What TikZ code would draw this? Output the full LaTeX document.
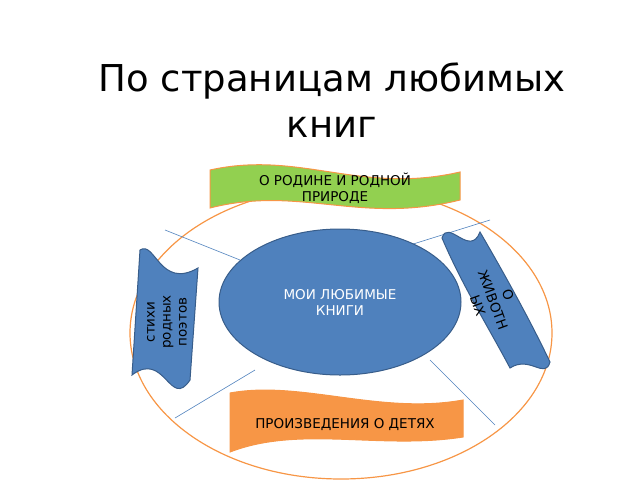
\documentclass[tikz,border=0pt]{standalone}
\usepackage{fontspec}
\setmainfont{DejaVu Sans}
\definecolor{ringblue}{HTML}{4F81BD}
\definecolor{edgeblue}{HTML}{385D8A}
\definecolor{leafgreen}{HTML}{92D050}
\definecolor{warmorange}{HTML}{F79646}
\begin{document}
\begin{tikzpicture}[x=1pt,y=-1pt,
    thin line/.style={draw=ringblue,line width=0.6pt},
    wave box/.style={draw=warmorange,line width=1pt},
    blue shape/.style={fill=ringblue,draw=edgeblue,line width=1pt},
    label text/.style={font=\fontsize{13.5}{16}\selectfont,align=center}]
    \useasboundingbox (0,0) rectangle (640,480);
    \node[font=\fontsize{37}{46}\selectfont,align=center] (title) at (332,100) {По страницам любимых\\книг};
    % outer ring
    \draw[draw=warmorange,line width=1.2pt] (341,333) ellipse [x radius=211,y radius=146];
    % spokes
    \coordinate (a1) at (165,230); \coordinate (a2) at (240,260);
    \coordinate (b1) at (490,220); \coordinate (b2) at (410,245);
    \coordinate (c1) at (175,418); \coordinate (c2) at (255,370);
    \coordinate (d1) at (495,425); \coordinate (d2) at (430,360);
    \draw[thin line] (a1) -- (a2);
    \draw[thin line] (b1) -- (b2);
    \draw[thin line] (c1) -- (c2);
    \draw[thin line] (d1) -- (d2);
    % centre
    \draw[blue shape] (340,302) ellipse [x radius=121,y radius=73];
    \node[label text,text=white] (centre) at (340,302) {МОИ ЛЮБИМЫЕ\\КНИГИ};
    % top banner
    \draw[wave box,fill=leafgreen] (210,170) .. controls (300,150) and (360,195) .. (460,172)
        -- (460,200) .. controls (360,225) and (300,185) .. (210,208) -- cycle;
    \node[label text] (top) at (335,188) {О РОДИНЕ И РОДНОЙ\\ПРИРОДЕ};
    % bottom banner
    \draw[wave box,fill=warmorange] (230,393) .. controls (300,380) and (380,415) .. (463,400)
        -- (463,437) .. controls (380,450) and (300,425) .. (230,452) -- cycle;
    \node[label text] (bottom) at (345,425) {ПРОИЗВЕДЕНИЯ О ДЕТЯХ};
    % left wave
    \draw[blue shape] (140,250)
        .. controls (155,240) and (160,290) .. (198,268)
        -- (190,380) .. controls (170,410) and (165,350) .. (132,375) -- cycle;
    \node[label text,rotate=90] (left) at (167,322) {стихи\\родных\\поэтов};
    % right wave
    \draw[blue shape] (442,238)
        .. controls (448,218) and (470,258) .. (480,232)
        .. controls (505,275) and (530,320) .. (550,362)
        .. controls (545,380) and (530,355) .. (510,368)
        .. controls (490,330) and (462,285) .. (442,238) -- cycle;
    \node[label text,rotate=-70] (right) at (493,300) {О\\ЖИВОТН\\ЫХ};
\end{tikzpicture}
\end{document}
